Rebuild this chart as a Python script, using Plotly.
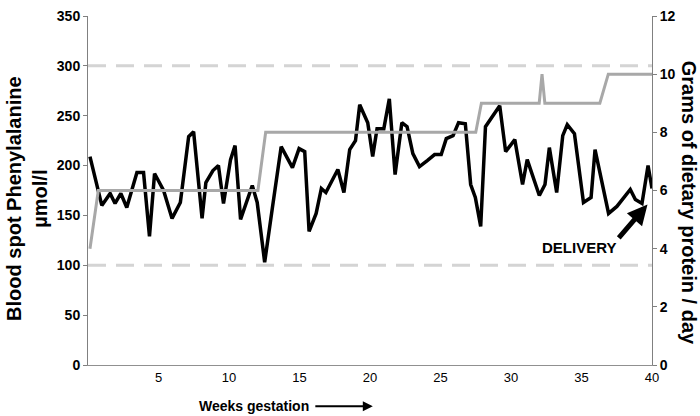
import plotly.graph_objects as go

# Blood spot phenylalanine (µmol/l) by week of gestation
phe_weeks = [0.14, 0.98, 1.57, 1.92, 2.33, 2.75, 3.47, 3.94, 4.36, 4.72, 5.36, 5.96, 6.55, 7.14, 7.49,
             8.09, 8.36, 8.86, 9.25, 9.61, 10.11, 10.43, 10.82, 11.65, 12.0, 12.53, 13.07, 13.70, 14.50,
             14.97, 15.37, 15.68, 16.18, 16.55, 16.87, 17.72, 18.15, 18.56, 18.97, 19.27, 19.84, 20.19,
             20.50, 20.98, 21.37, 21.78, 22.26, 22.63, 23.04, 23.51, 24.06, 24.58, 25.05, 25.41, 25.89,
             26.28, 26.76, 27.14, 27.47, 27.85, 28.19, 29.20, 29.62, 30.27, 30.82, 31.15, 32.01, 32.41,
             32.72, 33.24, 33.67, 33.99, 34.50, 35.14, 35.68, 35.96, 36.92, 37.51, 38.46, 38.82, 39.29,
             39.72, 40.0]
phe_values = [209, 160, 172, 162, 172, 158, 193, 193, 129, 192, 175, 147, 163, 229, 234,
              147, 183, 195, 200, 162, 206, 220, 146, 180, 163, 103, 157, 219, 198,
              217, 214, 134, 152, 177, 173, 196, 173, 216, 225, 261, 243, 209,
              237, 237, 267, 191, 243, 239, 212, 199, 205, 211, 211, 227, 230,
              243, 242, 181, 168, 139, 239, 260, 214, 226, 181, 206, 170, 181,
              218, 173, 230, 241, 232, 163, 168, 216, 152, 159, 176, 166, 162,
              200, 177]

# Dietary protein (g/day)
protein_weeks = [0.14, 0.73, 12.05, 12.6, 27.5, 27.9, 32.0, 32.2, 32.4, 36.3, 36.9, 40.0]
protein_values = [4, 6, 6, 8, 8, 9, 9, 10, 9, 9, 10, 10]

# Reference limits (µmol/l)
limit_weeks = [0, 40]
lower_limit = [100, 100]
upper_limit = [300, 300]

x_ticks = [5, 10, 15, 20, 25, 30, 35, 40]
left_ticks = [0, 50, 100, 150, 200, 250, 300, 350]
right_ticks = [0, 2, 4, 6, 8, 10, 12]

FONT = "Liberation Sans, Arial, sans-serif"

fig = go.Figure()
for lim in (lower_limit, upper_limit):
    fig.add_trace(go.Scatter(x=limit_weeks, y=lim, mode="lines",
                             line=dict(color="#d4d4d4", width=3, dash="18px,10px"),
                             hoverinfo="skip"))
fig.add_trace(go.Scatter(x=protein_weeks, y=protein_values, mode="lines", yaxis="y2",
                         line=dict(color="#a8a8a8", width=3)))
fig.add_trace(go.Scatter(x=phe_weeks, y=phe_values, mode="lines",
                         line=dict(color="#000000", width=3.5)))

fig.update_layout(
    width=700, height=416,
    margin=dict(l=88, r=48, t=8, b=51),
    paper_bgcolor="white", plot_bgcolor="white",
    showlegend=False,
    font=dict(family=FONT, color="black"),
    xaxis=dict(range=[0, 40], tickvals=x_ticks, ticks="", showgrid=False, zeroline=False,
               showline=True, linecolor="#909090", linewidth=1,
               tickfont=dict(size=13, family=FONT)),
    yaxis=dict(range=[0, 350], tickvals=left_ticks, ticks="outside", ticklen=4, tickcolor="#808080",
               showgrid=False, zeroline=False, showline=True, linecolor="#808080", linewidth=1,
               ticklabeloverflow="allow",
               tickfont=dict(size=14, family=FONT, weight="bold")),
    yaxis2=dict(range=[0, 12], tickvals=right_ticks, overlaying="y", side="right",
                ticks="outside", ticklen=4, tickcolor="#808080", ticklabeloverflow="allow",
                showgrid=False, zeroline=False, showline=True, linecolor="#808080", linewidth=1,
                tickfont=dict(size=14, family=FONT, weight="bold")),
)

# Axis titles
fig.add_annotation(text="<b>Blood spot Phenylalanine<br>µmol/l</b>", textangle=-90,
                   xref="paper", yref="paper", x=0, y=0.476, xshift=-61,
                   xanchor="center", yanchor="middle", showarrow=False,
                   font=dict(size=20, family=FONT))
fig.add_annotation(text="<b>Grams of dietary protein / day</b>", textangle=90,
                   xref="paper", yref="paper", x=1, y=0.465, xshift=37,
                   xanchor="center", yanchor="middle", showarrow=False,
                   font=dict(size=20, family=FONT))
fig.add_annotation(text="<b>Weeks gestation</b>", xref="x", yref="paper", x=11.8, y=-0.118,
                   xanchor="center", yanchor="middle", showarrow=False,
                   font=dict(size=14, family=FONT))
fig.add_annotation(text="", xref="x", yref="paper", x=20.2, y=-0.118, ax=-59, ay=0,
                   showarrow=True, arrowhead=2, arrowsize=1, arrowwidth=2, arrowcolor="black")

# Delivery marker
fig.add_annotation(text="<b>DELIVERY</b>", xref="x", yref="y", x=34.8, y=117.5,
                   showarrow=False, font=dict(size=15, family=FONT))
fig.add_annotation(text="", xref="x", yref="y", x=39.68, y=161, ax=-30, ay=35,
                   showarrow=True, arrowhead=2, arrowsize=0.8, arrowwidth=5, arrowcolor="black")

fig.write_html("out.html", config={"displayModeBar": False},
               post_script="document.body.style.margin='0';")
